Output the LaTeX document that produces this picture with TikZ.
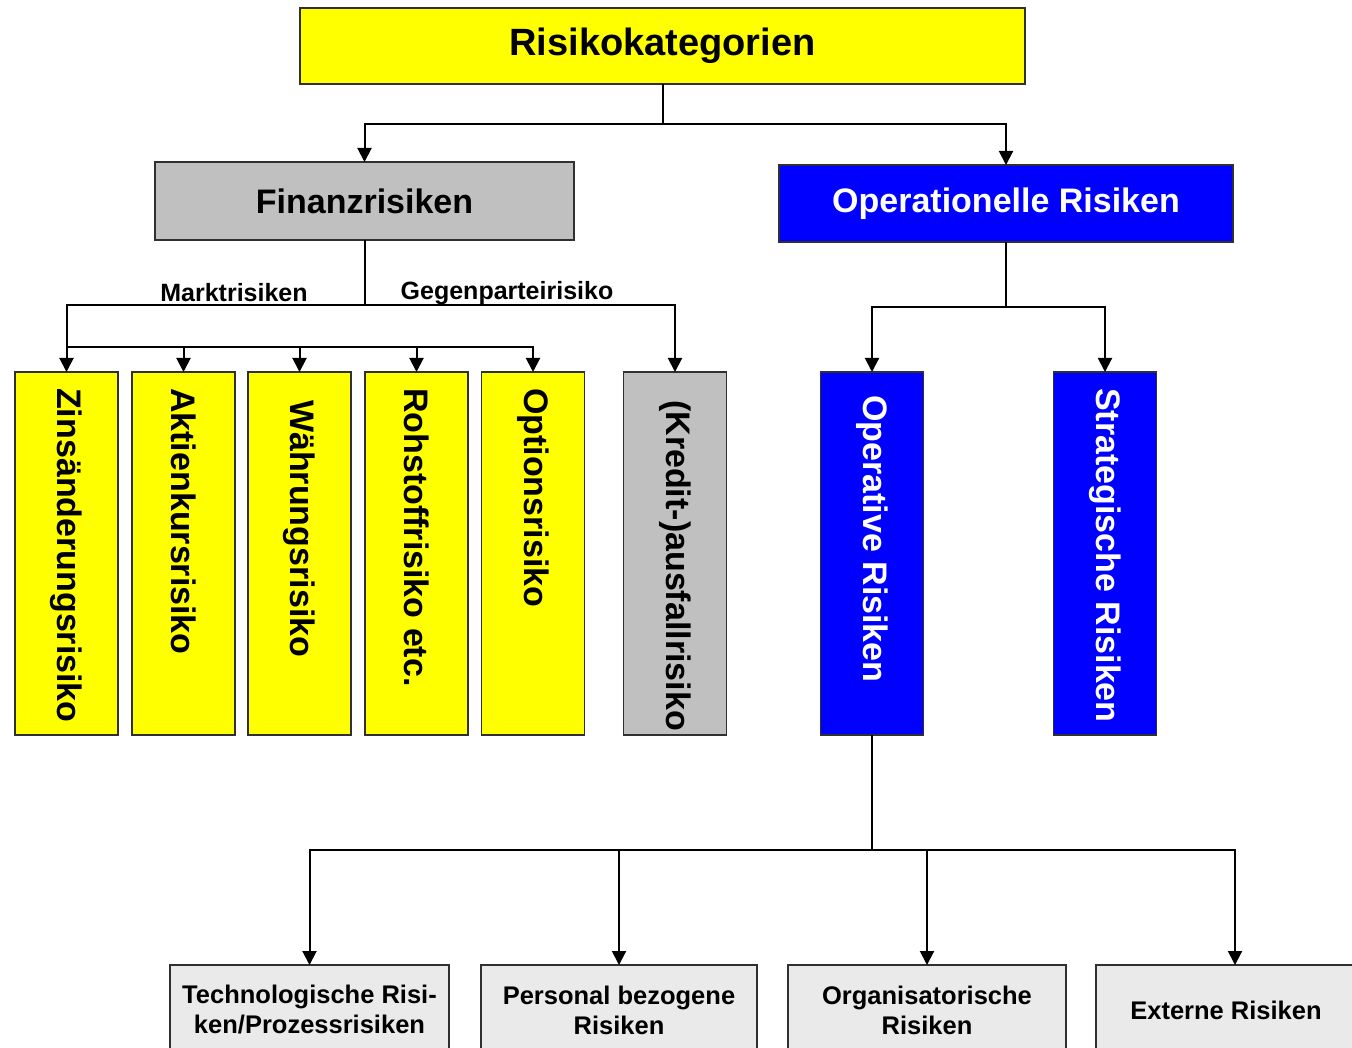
\documentclass[tikz,border=0pt]{standalone}
\usepackage{fontspec}
\setmainfont{Liberation Sans}
\usetikzlibrary{arrows.meta,calc}
\definecolor{ryellow}{HTML}{FFFF00}
\definecolor{rgray}{HTML}{C0C0C0}
\definecolor{rlight}{HTML}{EAEAEA}
\definecolor{rblue}{HTML}{0000FF}
\definecolor{rborder}{HTML}{303030}
\tikzset{
  box/.style={draw=rborder, line width=1.8pt, inner sep=0pt, outer sep=0pt},
  vbox/.style={box, minimum width=103pt, minimum height=363pt},
  vtext/.style={rotate=-90, anchor=west, inner sep=0pt, font=\fontsize{34}{40}\selectfont\bfseries},
  conn/.style={line width=2pt, draw=black},
  arr/.style={conn, -{Triangle[length=14pt,width=14pt]}},
  lbl/.style={font=\fontsize{25}{30}\selectfont\bfseries, inner sep=0pt},
}
\begin{document}
\begin{tikzpicture}[x=1pt,y=-1pt]
\useasboundingbox (0,0) rectangle (1352,1048);
\clip (0,0) rectangle (1352,1048);
\fill[white] (0,0) rectangle (1352,1048);

% top
\node[box, fill=ryellow, minimum width=725pt, minimum height=76pt,
      font=\fontsize{38}{44}\selectfont\bfseries] (top) at (662.5,46) {Risikokategorien};
\node[box, fill=rgray, minimum width=419pt, minimum height=78pt,
      font=\fontsize{34}{40}\selectfont\bfseries] (fin) at (364.5,201) {Finanzrisiken};
\node[box, fill=rblue, text=white, minimum width=454pt, minimum height=77pt,
      font=\fontsize{34}{40}\selectfont\bfseries] (ope) at (1006,203.5) {Operationelle Risiken};

% vertical boxes
\node[vbox, fill=ryellow] (zins) at (66.5,553.5) {};
\node[vbox, fill=ryellow] (akt)  at (183.5,553.5) {};
\node[vbox, fill=ryellow] (wae)  at (299.5,553.5) {};
\node[vbox, fill=ryellow] (roh)  at (416.5,553.5) {};
\node[vbox, fill=ryellow] (opt)  at (533,553.5) {};
\node[vbox, fill=rgray]   (kre)  at (675,553.5) {};
\node[vbox, fill=rblue]   (opr)  at (872,553.5) {};
\node[vbox, fill=rblue]   (str)  at (1105,553.5) {};

\node[vtext] (tzins) at (66.5,388) {Zinsänderungsrisiko};
\node[vtext] (takt)  at (183.5,388) {Aktienkursrisiko};
\node[vtext] (twae)  at (299.5,400) {Währungsrisiko};
\node[vtext] (troh)  at (416.5,388) {Rohstoffrisiko etc.};
\node[vtext] (topt)  at (533,388) {Optionsrisiko};
\node[vtext] (tkre)  at (675,400) {(Kredit-)ausfallrisiko};
\node[vtext, text=white] (topr) at (872,395) {Operative Risiken};
\node[vtext, text=white] (tstr) at (1105,388) {Strategische Risiken};

% bottom boxes
\node[box, fill=rlight, minimum width=279pt, minimum height=90pt, align=center,
      font=\fontsize{25.5}{30}\selectfont\bfseries] (tec) at (309.5,1010) {Technologische Risi-\\ken/Prozessrisiken};
\node[box, fill=rlight, minimum width=276pt, minimum height=90pt, align=center,
      font=\fontsize{25.5}{30}\selectfont\bfseries] (per) at (619,1010) {Personal bezogene\\Risiken};
\node[box, fill=rlight, minimum width=278pt, minimum height=90pt, align=center,
      font=\fontsize{25.5}{30}\selectfont\bfseries] (org) at (927,1010) {Organisatorische\\Risiken};
\node[box, fill=rlight, minimum width=260pt, minimum height=90pt, align=center,
      font=\fontsize{25.5}{30}\selectfont\bfseries] (ext) at (1226,1010) {Externe Risiken};

% labels
\node[lbl] (lmarkt) at (234,293) {Marktrisiken};
\node[lbl] (lgeg) at (507,293) {Gegenparteirisiko};

% connectors top
\coordinate (j1) at (662.5,124);
\draw[conn] (top.south) -- (j1);
\draw[arr] (j1) -| (fin.north);
\draw[arr] (j1) -| (ope.north);

% Finanz
\coordinate (j2) at (364.5,305);
\coordinate (j3) at (66.5,347);
\draw[conn] (fin.south) -- (j2);
\draw[arr] (j2) -| (kre.north);
\draw[conn] (j2) -| (j3);
\draw[arr] (j3) -- (zins.north);
\draw[arr] (j3) -| (akt.north);
\draw[arr] (j3) -| (wae.north);
\draw[arr] (j3) -| (roh.north);
\draw[arr] (j3) -| (opt.north);

% Operationelle
\coordinate (j4) at (1006,307);
\draw[conn] (ope.south) -- (j4);
\draw[arr] (j4) -| (opr.north);
\draw[arr] (j4) -| (str.north);

% Operative
\coordinate (j5) at (872,850);
\draw[conn] (opr.south) -- (j5);
\draw[arr] (j5) -| (tec.north);
\draw[arr] (j5) -| (per.north);
\draw[arr] (j5) -| (org.north);
\draw[arr] (j5) -| ([xshift=9pt]ext.north);
\end{tikzpicture}
\end{document}
